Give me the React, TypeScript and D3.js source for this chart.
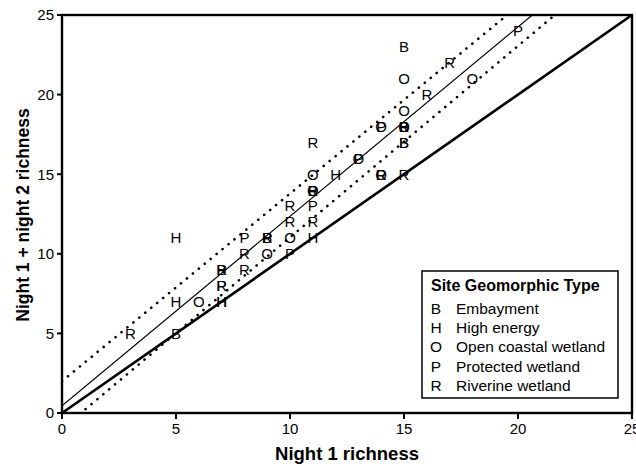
import React from 'react';
import * as d3 from 'd3';

// Sites: night 1 richness (x), night 1 + night 2 richness (y), geomorphic type
const siteTypes = ['B', 'B', 'B', 'B', 'B', 'B', 'B', 'B', 'B',
  'H', 'H', 'H', 'H', 'H', 'H',
  'O', 'O', 'O', 'O', 'O', 'O', 'O', 'O', 'O', 'O', 'O', 'O',
  'P', 'P', 'P', 'P', 'P', 'P', 'P', 'P',
  'R', 'R', 'R', 'R', 'R', 'R', 'R', 'R', 'R', 'R', 'R', 'R', 'R', 'R', 'R', 'R', 'R'];
const night1 = [15, 15, 15, 11, 9, 7, 5, 15, 15,
  5, 12, 11, 5, 7, 7,
  15, 18, 15, 14, 13, 11, 14, 10, 9, 6, 15, 11,
  20, 11, 8, 10, 7, 13, 14, 9,
  17, 16, 11, 15, 10, 10, 11, 8, 8, 7, 3, 14, 9, 7, 11, 15, 14];
const night12 = [23, 17, 18, 14, 11, 9, 5, 18, 17,
  11, 15, 11, 7, 7, 7,
  21, 21, 19, 18, 16, 15, 15, 11, 10, 7, 18, 14,
  24, 13, 11, 10, 8, 16, 18, 11,
  22, 20, 17, 15, 13, 12, 12, 10, 9, 9, 5, 15, 11, 8, 14, 18, 15];

// Fitted lines: [intercept, slope]
const regression = [0.45, 1.19];
const upperBand = [2.0, 1.178];
const lowerBand = [-1.0, 1.203];
const identity = [0, 1];

const xTicks = [0, 5, 10, 15, 20, 25];
const yTicks = [0, 5, 10, 15, 20, 25];

const legendLetters = ['B', 'H', 'O', 'P', 'R'];
const legendLabels = ['Embayment', 'High energy', 'Open coastal wetland', 'Protected wetland', 'Riverine wetland'];

const W = 636;
const H = 466;
const margin = { left: 62, right: 4, top: 15, bottom: 53 };
const font = 'Arial, "Liberation Sans", sans-serif';

export default function App() {
  const x = d3.scaleLinear().domain([0, 25]).range([margin.left, W - margin.right]);
  const y = d3.scaleLinear().domain([0, 25]).range([H - margin.bottom, margin.top]);
  const line = d3.line<number>().x(v => x(v[0])).y(v => y(v[1]));
  const fitPath = (c: number[]) => line([[0, c[0]], [25, c[0] + c[1] * 25]] as any);

  const [x0, x1] = x.range();
  const [yb, yt] = y.range();

  const lx = 422;
  const ly = 271;

  return (
    <svg width={W} height={H} style={{ position: 'absolute', left: 0, top: 0, background: '#fff' }}
      fontFamily={font}>
      <defs>
        <clipPath id="plot">
          <rect x={x0} y={yt} width={x1 - x0} height={yb - yt} />
        </clipPath>
      </defs>
      <g clipPath="url(#plot)">
        <path d={fitPath(identity) || ''} stroke="#000" strokeWidth={2.6} fill="none" />
        <path d={fitPath(regression) || ''} stroke="#000" strokeWidth={1.2} fill="none" />
        {[upperBand, lowerBand].map((c, i) => (
          <path key={i} d={fitPath(c) || ''} stroke="#000" strokeWidth={2.6} fill="none"
            strokeDasharray="0.1 7.6" strokeLinecap="round" />
        ))}
      </g>
      {siteTypes.map((t, i) => (
        <text key={i} x={x(night1[i])} y={y(night12[i])} dy="0.36em" textAnchor="middle"
          fontSize={15} fill="#000">{t}</text>
      ))}
      <rect x={x0} y={yt} width={x1 - x0} height={yb - yt} fill="none" stroke="#000" strokeWidth={2.4} />
      {xTicks.map(t => (
        <g key={'x' + t}>
          <line x1={x(t)} x2={x(t)} y1={yb} y2={yb + 6} stroke="#000" strokeWidth={2} />
          <text x={x(t)} y={yb + 21} textAnchor="middle" fontSize={15}>{t}</text>
        </g>
      ))}
      {yTicks.map(t => (
        <g key={'y' + t}>
          <line x1={x0 - 5} x2={x0} y1={y(t)} y2={y(t)} stroke="#000" strokeWidth={2} />
          <text x={x0 - 8} y={y(t)} dy="0.36em" textAnchor="end" fontSize={15}>{t}</text>
        </g>
      ))}
      <text x={(x0 + x1) / 2} y={460} textAnchor="middle" fontSize={18.5} fontWeight="bold">Night 1 richness</text>
      <text transform={`translate(29, ${(yb + yt) / 2 + 1}) rotate(-90)`} textAnchor="middle" fontSize={17.5}
        fontWeight="bold">Night 1 + night 2 richness</text>

      <g>
        <rect x={lx} y={ly} width={196} height={127} fill="#fff" stroke="#000" strokeWidth={1.5} />
        <text x={lx + 9} y={ly + 20} fontSize={16} fontWeight="bold">Site Geomorphic Type</text>
        {legendLetters.map((l, i) => (
          <g key={l}>
            <text x={lx + 14} y={ly + 43 + i * 19.2} textAnchor="middle" fontSize={15.5}>{l}</text>
            <text x={lx + 34} y={ly + 43 + i * 19.2} fontSize={15.5}>{legendLabels[i]}</text>
          </g>
        ))}
      </g>
    </svg>
  );
}
